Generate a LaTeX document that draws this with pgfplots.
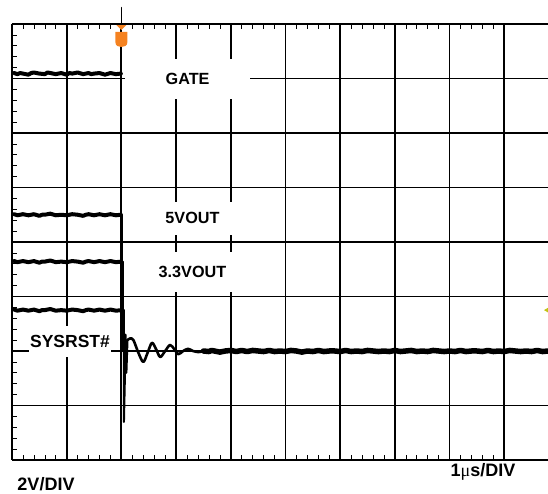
\documentclass[border=0pt]{standalone}
\usepackage{pgfplots}
\pgfplotsset{compat=1.18}
\usepackage{fontspec}
\setmainfont{Liberation Sans}
\newfontfamily\serifmu{Liberation Serif}
\definecolor{trigcol}{RGB}{245,130,32}
\definecolor{lvlcol}{RGB}{195,195,20}
\pgfdeclareplotmark{trig}{%
  \pgfpathmoveto{\pgfqpoint{-6pt}{0pt}}%
  \pgfpathlineto{\pgfqpoint{6pt}{0pt}}%
  \pgfpathlineto{\pgfqpoint{0pt}{-6pt}}%
  \pgfpathclose
  \pgfpathmoveto{\pgfqpoint{-6pt}{-8pt}}%
  \pgfpathlineto{\pgfqpoint{6pt}{-8pt}}%
  \pgfpathlineto{\pgfqpoint{6pt}{-18pt}}%
  \pgfpathcurveto{\pgfqpoint{6pt}{-22pt}}{\pgfqpoint{3pt}{-23pt}}{\pgfqpoint{0pt}{-23pt}}%
  \pgfpathcurveto{\pgfqpoint{-3pt}{-23pt}}{\pgfqpoint{-6pt}{-22pt}}{\pgfqpoint{-6pt}{-18pt}}%
  \pgfpathclose
  \pgfusepathqfill}
\pgfdeclareplotmark{lvl}{%
  \pgfpathmoveto{\pgfqpoint{-4pt}{0pt}}%
  \pgfpathlineto{\pgfqpoint{2pt}{3.5pt}}%
  \pgfpathlineto{\pgfqpoint{2pt}{-3.5pt}}%
  \pgfpathclose
  \pgfusepathqfill}
\newcommand\lbl{\fontsize{16.2}{19}\selectfont\bfseries}
\begin{document}
\begin{tikzpicture}
\path[use as bounding box] (-12pt,-34pt) rectangle (536pt,460pt);
\begin{axis}[
  scale only axis, width=536pt, height=436pt,
  xmin=0, xmax=9.8, ymin=0, ymax=8,
  enlargelimits=false,
  axis x line=bottom, axis y line=left,
  axis line style={-, line width=2.6pt, black},
  xtick={0,...,9}, ytick={0,...,8},
  xticklabels={}, yticklabels={},
  minor x tick num=4, minor y tick num=4,
  major tick length=0pt, minor tick length=5pt,
  tick align=inside,
  minor tick style={line width=0.6pt, black},
  grid=major, major grid style={line width=1.8pt, black},
  clip=false,
  trace/.style={black, line join=round, line cap=round, mark=none},
]
% trigger marker
\addplot[only marks, mark=trig, color=trigcol, mark options={fill=trigcol, draw=none}] coordinates {(2,8)};
% trigger level marker
\addplot[only marks, mark=lvl, color=lvlcol, mark options={fill=lvlcol, draw=none}] coordinates {(9.8,2.75)};
% GATE
\addplot[trace, line width=4pt] coordinates {
(0.04,7.10)(0.1,7.08)(0.15,7.10)(0.2,7.09)(0.3,7.07)(0.35,7.10)(0.4,7.11)(0.5,7.09)(0.6,7.08)(0.65,7.11)(0.7,7.10)(0.8,7.08)(0.9,7.10)(1.0,7.07)
(1.05,7.10)(1.1,7.09)(1.2,7.11)(1.3,7.08)(1.4,7.10)(1.45,7.08)(1.5,7.09)(1.6,7.10)(1.7,7.07)(1.8,7.10)(1.9,7.08)(1.99,7.09)};
\addplot[trace, line width=1.6pt] coordinates {(1.99,7.09)(2.0,7.09)(2.0,8.3)(2.0,2.0)};
% 5VOUT
\addplot[trace, line width=4pt] coordinates {
(0.04,4.51)(0.1,4.49)(0.15,4.50)(0.2,4.51)(0.3,4.49)(0.4,4.51)(0.5,4.48)(0.55,4.50)(0.6,4.50)(0.7,4.52)(0.8,4.49)(0.9,4.50)(1.0,4.49)
(1.1,4.51)(1.2,4.50)(1.3,4.48)(1.35,4.50)(1.4,4.51)(1.5,4.49)(1.6,4.51)(1.7,4.49)(1.8,4.51)(1.9,4.49)(1.99,4.50)};
\addplot[trace, line width=1.6pt] coordinates {(1.99,4.50)(2.01,4.50)(2.01,2.0)};
% 3.3VOUT
\addplot[trace, line width=4pt] coordinates {
(0.04,3.65)(0.1,3.63)(0.15,3.64)(0.2,3.65)(0.3,3.63)(0.4,3.65)(0.5,3.62)(0.55,3.64)(0.6,3.64)(0.7,3.66)(0.8,3.63)(0.9,3.64)(1.0,3.63)
(1.1,3.65)(1.2,3.64)(1.3,3.62)(1.35,3.64)(1.4,3.65)(1.5,3.63)(1.6,3.65)(1.7,3.63)(1.8,3.65)(1.9,3.63)(2.0,3.64)};
\addplot[trace, line width=1.6pt] coordinates {(2.0,3.64)(2.03,3.64)(2.03,2.0)};
% SYSRST#
\addplot[trace, line width=4pt] coordinates {
(0.04,2.76)(0.1,2.74)(0.15,2.75)(0.2,2.76)(0.3,2.74)(0.4,2.76)(0.5,2.73)(0.55,2.75)(0.6,2.75)(0.7,2.77)(0.8,2.74)(0.9,2.75)(1.0,2.74)
(1.1,2.76)(1.2,2.75)(1.3,2.73)(1.35,2.75)(1.4,2.76)(1.5,2.74)(1.6,2.76)(1.7,2.74)(1.8,2.76)(1.9,2.74)(2.02,2.75)};
\addplot[trace, line width=2.2pt] coordinates {
(2.02,2.75)(2.045,2.75)(2.045,0.70)(2.06,1.4)(2.075,2.3)(2.09,1.6)(2.11,2.2)};
\addplot[trace, line width=2.6pt, smooth, tension=0.55] coordinates {
(2.11,2.2)(2.16,2.23)(2.22,2.20)(2.31,1.97)(2.40,1.80)(2.48,1.97)(2.56,2.15)(2.64,2.02)(2.71,1.89)
(2.80,2.0)(2.89,2.11)(2.97,2.03)(3.04,1.94)(3.13,2.0)(3.22,2.04)(3.31,2.0)(3.41,1.98)(3.5,2.0)};
\addplot[trace, line width=5.5pt] coordinates {
(3.5,2.00)(3.6,1.99)(3.65,2.01)(3.7,2.00)(3.8,1.98)(3.9,2.00)(4.0,2.01)(4.1,1.99)(4.2,2.01)(4.3,1.99)(4.4,2.01)
(4.5,2.00)(4.6,1.99)(4.7,2.01)(4.8,1.99)(4.9,2.00)(5.0,1.99)(5.1,2.01)(5.2,2.00)(5.3,1.98)(5.4,2.00)
(5.5,1.99)(5.6,2.01)(5.7,1.99)(5.8,2.00)(5.9,2.00)(6.0,1.99)(6.1,2.01)(6.2,1.99)(6.3,2.00)(6.4,1.99)
(6.5,2.01)(6.6,2.00)(6.7,1.99)(6.8,2.00)(6.9,1.99)(7.0,2.01)(7.1,1.99)(7.2,2.00)(7.3,2.01)(7.4,1.99)
(7.5,2.00)(7.6,1.99)(7.7,2.01)(7.8,2.00)(7.9,1.99)(8.0,2.00)(8.1,1.99)(8.2,2.01)(8.3,1.99)(8.4,2.00)
(8.5,2.00)(8.6,1.99)(8.7,2.01)(8.8,1.99)(8.9,2.00)(9.0,1.99)(9.1,2.01)(9.2,2.00)(9.3,1.99)(9.4,2.00)
(9.5,1.99)(9.6,2.01)(9.7,1.99)(9.8,2.00)};
% labels
\node[fill=white, minimum width=125pt, minimum height=40pt, inner sep=0pt] at (axis cs:3.21,6.99) {\lbl GATE};
\node[fill=white, minimum width=125pt, minimum height=33pt, inner sep=0pt] at (axis cs:3.30,4.44) {\lbl 5VOUT};
\node[fill=white, minimum width=125pt, minimum height=40pt, inner sep=0pt] at (axis cs:3.30,3.45) {\lbl 3.3VOUT};
\node[fill=white, minimum height=31pt, inner sep=1pt] at (axis cs:1.06,2.17) {\fontsize{17.5}{20}\selectfont\bfseries SYSRST\#};
\end{axis}
\begin{axis}[
  scale only axis, width=536pt, height=436pt,
  xmin=0, xmax=9.8, ymin=0, ymax=8,
  enlargelimits=false,
  axis x line=top, axis y line=none,
  axis line style={-, line width=2.6pt, black},
  xtick={0,...,9}, xticklabels={},
  minor x tick num=4,
  major tick length=0pt, minor tick length=5pt,
  tick align=inside,
  minor tick style={line width=0.6pt, black},
]
\addplot[draw=none, mark=none] coordinates {(0,0)};
\end{axis}
\node[inner sep=0pt] at (34pt,-24.5pt) {\fontsize{18}{21}\selectfont\bfseries 2V/DIV};
\node[inner sep=0pt] at (471pt,-12pt) {\fontsize{18}{21}\selectfont\bfseries 1{\serifmu\mdseries μ}s/DIV};
\end{tikzpicture}
\end{document}
